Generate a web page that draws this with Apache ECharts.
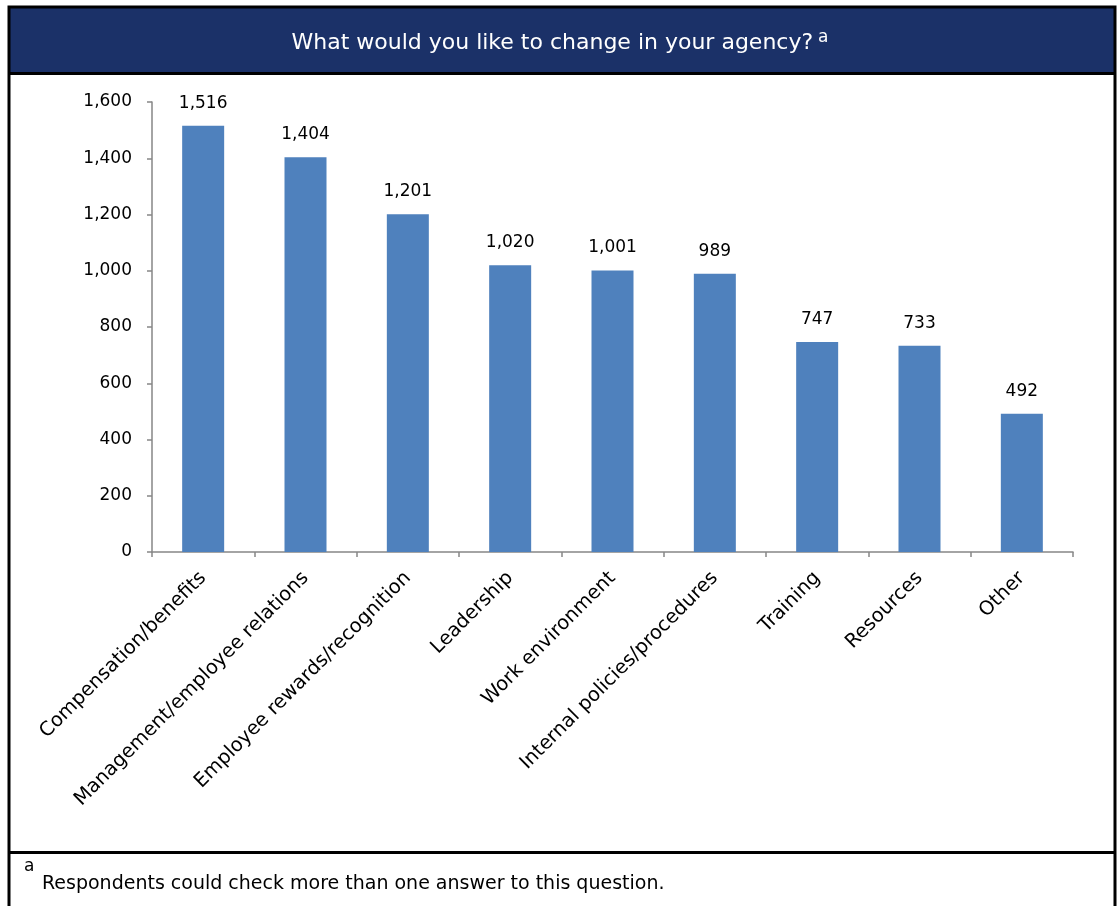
<!DOCTYPE html>
<html>
<head>
<meta charset="utf-8">
<script src="https://cdn.jsdelivr.net/npm/echarts@6/dist/echarts.min.js"></script>
<style>
  html, body { margin: 0; padding: 0; background: #ffffff; }
  #chart { width: 1117px; height: 906px; }
</style>
</head>
<body>
<div id="chart"></div>
<script>
// Survey answers: what respondents would like to change in their agency
const categories = [
  'Compensation/benefits',
  'Management/employee relations',
  'Employee rewards/recognition',
  'Leadership',
  'Work environment',
  'Internal policies/procedures',
  'Training',
  'Resources',
  'Other'
];
const responses = [1516, 1404, 1201, 1020, 1001, 989, 747, 733, 492];
const yTicks = { min: 0, max: 1600, interval: 200 };

const titleText = 'What would you like to change in your agency?';
const footnoteText = 'Respondents could check more than one answer to this question.';

const FONT = 'Tahoma, "DejaVu Sans", Verdana, sans-serif';
const fmt = v => Number(v).toLocaleString('en-US');

const chart = echarts.init(document.getElementById('chart'), null, { renderer: 'canvas' });

chart.setOption({
  animation: false,
  backgroundColor: '#ffffff',
  title: {
    text: '{t|' + titleText + '} {s|a}',
    left: 560,
    top: 29,
    padding: 0,
    textAlign: 'center',
    textStyle: {
      fontWeight: 'normal',
      rich: {
        t: { color: '#ffffff', fontFamily: FONT, fontSize: 22, fontWeight: 'normal', lineHeight: 28 },
        s: { color: '#ffffff', fontFamily: FONT, fontSize: 17, fontWeight: 'normal', verticalAlign: 'top', lineHeight: 28, padding: [0, 0, 16, 0] }
      }
    }
  },
  grid: { left: 152, right: 44, top: 102, bottom: 354, containLabel: false },
  xAxis: {
    type: 'category',
    data: categories,
    boundaryGap: true,
    axisLine: { show: true, lineStyle: { color: '#868686', width: 1.5 } },
    axisTick: { show: true, length: 5, lineStyle: { color: '#868686', width: 1.5 } },
    axisLabel: {
      interval: 0,
      rotate: 45,
      margin: 23,
      color: '#000000',
      fontFamily: FONT,
      fontSize: 19.5
    },
    splitLine: { show: false }
  },
  yAxis: {
    type: 'value',
    min: yTicks.min,
    max: yTicks.max,
    interval: yTicks.interval,
    axisLine: { show: true, lineStyle: { color: '#868686', width: 1.5 } },
    axisTick: { show: true, length: 5, lineStyle: { color: '#868686', width: 1.5 } },
    axisLabel: {
      margin: 20,
      color: '#000000',
      fontFamily: FONT,
      fontSize: 17,
      formatter: fmt
    },
    splitLine: { show: false }
  },
  series: [{
    type: 'bar',
    data: responses,
    barWidth: 42,
    itemStyle: { color: '#4F81BD' },
    label: {
      show: true,
      position: 'top',
      distance: 14,
      color: '#000000',
      fontFamily: FONT,
      fontSize: 17,
      formatter: p => fmt(p.value)
    }
  }],
  graphic: [
    // header band
    {
      type: 'rect', z: -1,
      shape: { x: 9, y: 7, width: 1106, height: 66 },
      style: { fill: '#1B3168' }
    },
    // outer frame
    {
      type: 'rect', z: 10,
      shape: { x: 9, y: 7, width: 1106, height: 910 },
      style: { fill: null, stroke: '#000000', lineWidth: 3 }
    },
    // rule under the header
    {
      type: 'line', z: 10,
      shape: { x1: 9, y1: 73.5, x2: 1115, y2: 73.5 },
      style: { stroke: '#000000', lineWidth: 3 }
    },
    // rule above the footnote
    {
      type: 'line', z: 10,
      shape: { x1: 9, y1: 852.5, x2: 1115, y2: 852.5 },
      style: { stroke: '#000000', lineWidth: 3 }
    },
    // footnote marker
    {
      type: 'text', z: 10,
      style: { x: 24, y: 858, text: 'a', fill: '#000000', font: '17px ' + FONT }
    },
    // footnote text
    {
      type: 'text', z: 10,
      style: { x: 42, y: 875, text: footnoteText, fill: '#000000', font: '19px ' + FONT }
    }
  ]
});
</script>
</body>
</html>
